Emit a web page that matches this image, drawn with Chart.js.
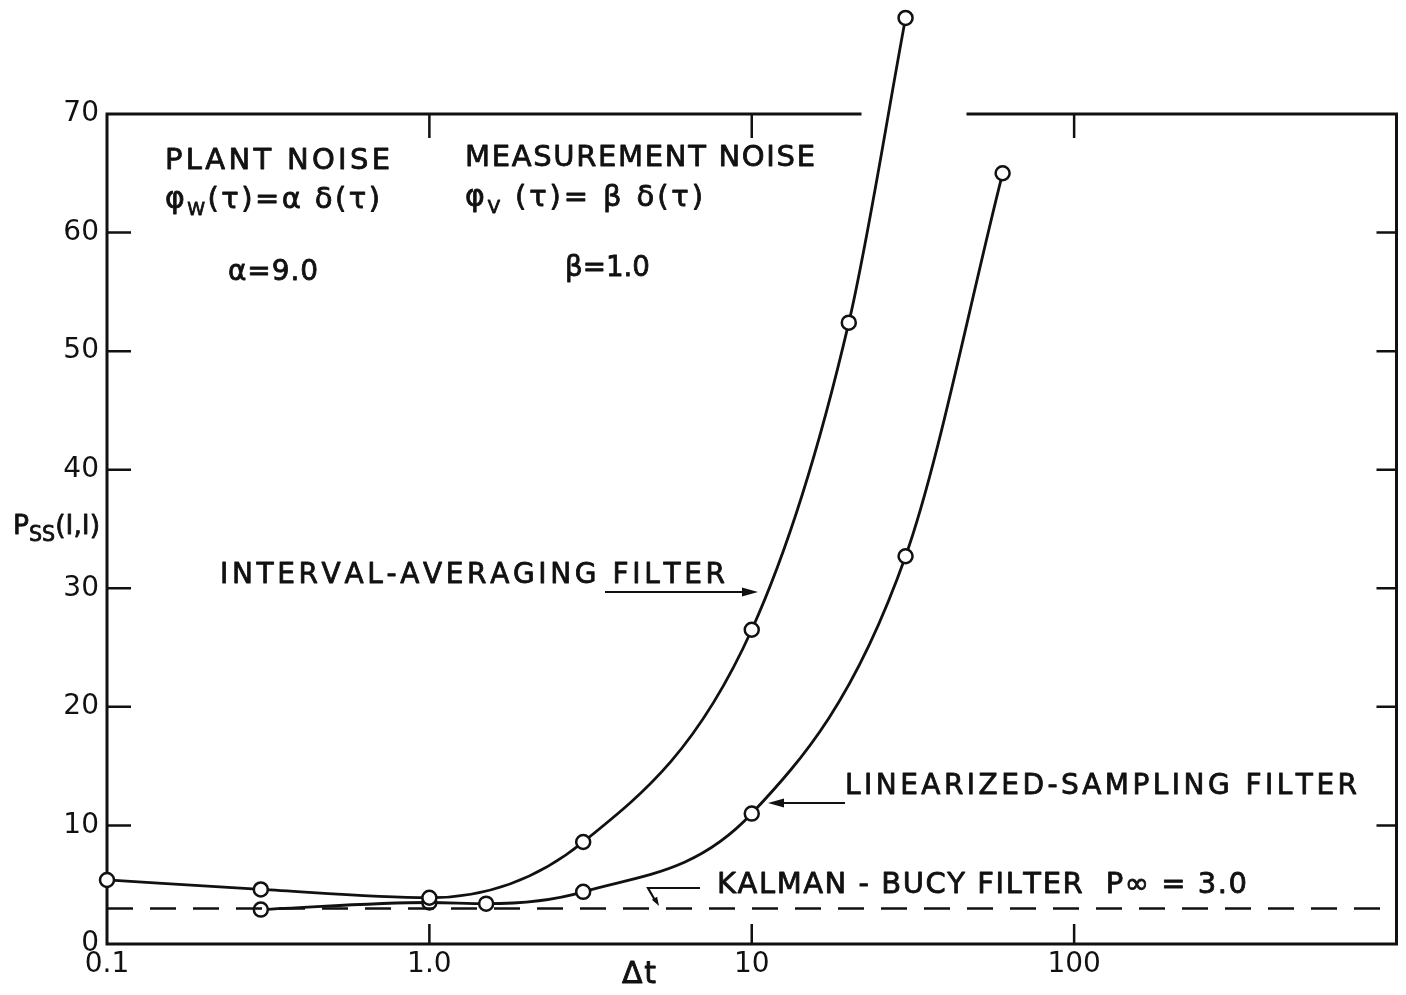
<!DOCTYPE html>
<html><head><meta charset="utf-8">
<script src="https://cdn.jsdelivr.net/npm/chart.js@4/dist/chart.umd.min.js"></script>
<style>html,body{margin:0;padding:0;background:#fff;}#wrap{width:1406px;height:995px;position:relative;}</style>
</head><body><div id="wrap"><canvas id="c" width="1406" height="995"></canvas></div>
<script>
// ---- data ----
const intervalDt = [0.1, 0.3, 1.0, 3.0, 10, 20, 30];
const intervalP  = [5.4, 4.6, 3.9, 8.6, 26.5, 52.4, 78.1];
const linearDt   = [0.3, 1.0, 1.5, 3.0, 10, 30, 60];
const linearP    = [2.9, 3.5, 3.4, 4.4, 11.0, 32.7, 65.0];
const kalmanDt   = [0.1, 1000];
const kalmanP    = [3.0, 3.0];
const xTickValues = [0.1, 1, 10, 100];
const xTickLabels = ['0.1', '1.0', '10', '100'];
const yTickValues = [0, 10, 20, 30, 40, 50, 60, 70];

const FONT = "'DejaVu Sans', 'Liberation Sans', sans-serif";
const INK = '#111';

function pts(xs, ys) { return xs.map((x, i) => ({ x: x, y: ys[i] })); }

function drawRich(ctx, segs, x, yMid, width) {
  let total = 0, n = 0;
  segs.forEach(s => {
    ctx.font = `${s.weight || 'normal'} ${s.size}px ${FONT}`;
    s.chars = [...s.t];
    s.cw = s.chars.map(c => ctx.measureText(c).width);
    total += s.cw.reduce((a, b) => a + b, 0);
    n += s.chars.length;
  });
  let ls = (width - total) / Math.max(1, n - 1);
  let sx = 1;
  if (ls < 0) { sx = width / total; ls = 0; }
  ctx.save();
  ctx.translate(x, yMid);
  ctx.scale(sx, 1);
  ctx.fillStyle = INK;
  ctx.strokeStyle = INK;
  ctx.lineWidth = 0.8;
  ctx.lineJoin = 'round';
  ctx.textBaseline = 'middle';
  ctx.textAlign = 'left';
  let cx = 0;
  segs.forEach(s => {
    ctx.font = `${s.weight || 'normal'} ${s.size}px ${FONT}`;
    s.chars.forEach((c, i) => {
      ctx.fillText(c, cx, s.dy || 0);
      ctx.strokeText(c, cx, s.dy || 0);
      cx += s.cw[i] + ls;
    });
  });
  ctx.restore();
}

function arrowHead(ctx, x, y, ang, len, half) {
  ctx.save();
  ctx.translate(x, y); ctx.rotate(ang);
  ctx.beginPath();
  ctx.moveTo(0, 0); ctx.lineTo(-len, -half); ctx.lineTo(-len, half); ctx.closePath();
  ctx.fill();
  ctx.restore();
}

const framePlugin = {
  id: 'frame',
  beforeDatasetsDraw(chart) {
    const { ctx, chartArea: a, scales } = chart;
    const xs = scales.x, ys = scales.y;
    ctx.save();
    ctx.strokeStyle = INK; ctx.lineWidth = 3; ctx.lineCap = 'square';
    ctx.beginPath();
    ctx.moveTo(a.left, a.top); ctx.lineTo(a.left, a.bottom); ctx.lineTo(a.right, a.bottom); ctx.lineTo(a.right, a.top);
    ctx.moveTo(a.right, a.top); ctx.lineTo(968, a.top);
    ctx.moveTo(860, a.top); ctx.lineTo(a.left, a.top);
    ctx.stroke();
    ctx.lineWidth = 2.5; ctx.lineCap = 'butt';
    ctx.beginPath();
    yTickValues.forEach(v => {
      if (v === 0 || v === 70) return;
      const py = ys.getPixelForValue(v);
      ctx.moveTo(a.left, py); ctx.lineTo(a.left + 24, py);
      ctx.moveTo(a.right, py); ctx.lineTo(a.right - 20, py);
    });
    xTickValues.forEach(v => {
      if (v === 0.1) return;
      const px = xs.getPixelForValue(v);
      ctx.moveTo(px, a.bottom); ctx.lineTo(px, a.bottom - 20);
      ctx.moveTo(px, a.top); ctx.lineTo(px, a.top + 24);
    });
    ctx.stroke();
    ctx.restore();
  }
};

// redraw the library's own point elements that lie above the plot area (clipped by default)
const outsidePointsPlugin = {
  id: 'outsidePoints',
  afterDatasetsDraw(chart) {
    const big = { left: -10000, top: -10000, right: 10000, bottom: 10000 };
    const a = chart.chartArea;
    chart.data.datasets.forEach((ds, i) => {
      const meta = chart.getDatasetMeta(i);
      meta.data.forEach(el => {
        if (el.y < a.top - 1 || el.y > a.bottom + 1) el.draw(chart.ctx, big);
      });
    });
  }
};

const textPlugin = {
  id: 'texts',
  afterDraw(chart) {
    const ctx = chart.ctx;
    ctx.save();
    drawRich(ctx, [{ t: 'PLANT NOISE', size: 29 }], 165, 161, 225);
    drawRich(ctx, [{ t: 'φ', size: 30 }, { t: 'W', size: 18, dy: 10 }, { t: '(τ)=α δ(τ)', size: 29 }], 165, 200, 215);
    drawRich(ctx, [{ t: 'α=9.0', size: 28 }], 228, 273, 90);
    drawRich(ctx, [{ t: 'MEASUREMENT NOISE', size: 29 }], 465, 158, 350);
    drawRich(ctx, [{ t: 'φ', size: 30 }, { t: 'V', size: 18, dy: 10 }, { t: ' (τ)= β δ(τ)', size: 29 }], 465, 198, 238);
    drawRich(ctx, [{ t: 'β=1.0', size: 28 }], 565, 269, 85);
    drawRich(ctx, [{ t: 'INTERVAL-AVERAGING FILTER', size: 28 }], 220, 576, 505);
    drawRich(ctx, [{ t: 'LINEARIZED-SAMPLING FILTER', size: 28 }], 845, 787, 512);
    drawRich(ctx, [{ t: 'KALMAN - BUCY FILTER  P', size: 29 }, { t: '∞', size: 29 }, { t: ' = 3.0', size: 29 }], 717, 885, 530);
    drawRich(ctx, [{ t: 'Δt', size: 30 }], 622, 975, 34);
    drawRich(ctx, [{ t: 'P', size: 27 }, { t: 'SS', size: 21, dy: 9 }, { t: '(I,I)', size: 27 }], 13, 527, 87);

    ctx.strokeStyle = INK; ctx.fillStyle = INK; ctx.lineWidth = 2.2;
    ctx.beginPath();
    ctx.moveTo(605, 592); ctx.lineTo(748, 592);
    ctx.moveTo(845, 803); ctx.lineTo(780, 803);
    ctx.moveTo(700, 888); ctx.lineTo(648, 888); ctx.lineTo(656, 902);
    ctx.stroke();
    arrowHead(ctx, 758, 592, 0, 16, 4.5);
    arrowHead(ctx, 768, 803, Math.PI, 16, 4.5);
    arrowHead(ctx, 659, 906, Math.atan2(14, 8), 9, 3);
    ctx.restore();
  }
};

new Chart(document.getElementById('c'), {
  type: 'line',
  data: {
    datasets: [
      {
        label: 'Kalman-Bucy filter',
        data: pts(kalmanDt, kalmanP),
        borderColor: INK, borderWidth: 2.5, borderDash: [26, 17],
        pointRadius: 0, fill: false, clip: false
      },
      {
        label: 'Interval-averaging filter',
        data: pts(intervalDt, intervalP),
        borderColor: INK, borderWidth: 2.8, cubicInterpolationMode: 'monotone',
        pointRadius: 7, pointBorderWidth: 2.5, pointBackgroundColor: '#fff', pointBorderColor: INK,
        fill: false, clip: false
      },
      {
        label: 'Linearized-sampling filter',
        data: pts(linearDt, linearP),
        borderColor: INK, borderWidth: 2.8, cubicInterpolationMode: 'monotone',
        pointRadius: 7, pointBorderWidth: 2.5, pointBackgroundColor: '#fff', pointBorderColor: INK,
        fill: false, clip: false
      }
    ]
  },
  options: {
    responsive: false,
    animation: false,
    devicePixelRatio: 1,
    layout: { padding: { left: 0, right: 8, top: 114, bottom: 0 } },
    plugins: { legend: { display: false }, tooltip: { enabled: false }, title: { display: false } },
    scales: {
      x: {
        type: 'logarithmic', min: 0.1, max: 1000,
        grid: { display: false, drawTicks: false },
        border: { display: false },
        afterBuildTicks: s => { s.ticks = xTickValues.map(v => ({ value: v })); },
        afterFit: s => { s.height = 51; },
        ticks: {
          autoSkip: false, maxRotation: 0, minRotation: 0, padding: 4,
          color: INK, font: { family: FONT, size: 28 },
          callback: (v) => { const i = xTickValues.indexOf(v); return i >= 0 ? xTickLabels[i] : ''; }
        }
      },
      y: {
        type: 'linear', min: 0, max: 70,
        grid: { display: false, drawTicks: false },
        border: { display: false },
        afterBuildTicks: s => { s.ticks = yTickValues.map(v => ({ value: v })); },
        afterFit: s => { s.width = 107; },
        ticks: {
          autoSkip: false, padding: 8,
          color: INK, font: { family: FONT, size: 28 },
          callback: v => String(v)
        }
      }
    }
  },
  plugins: [framePlugin, outsidePointsPlugin, textPlugin]
});
</script>
</body></html>
